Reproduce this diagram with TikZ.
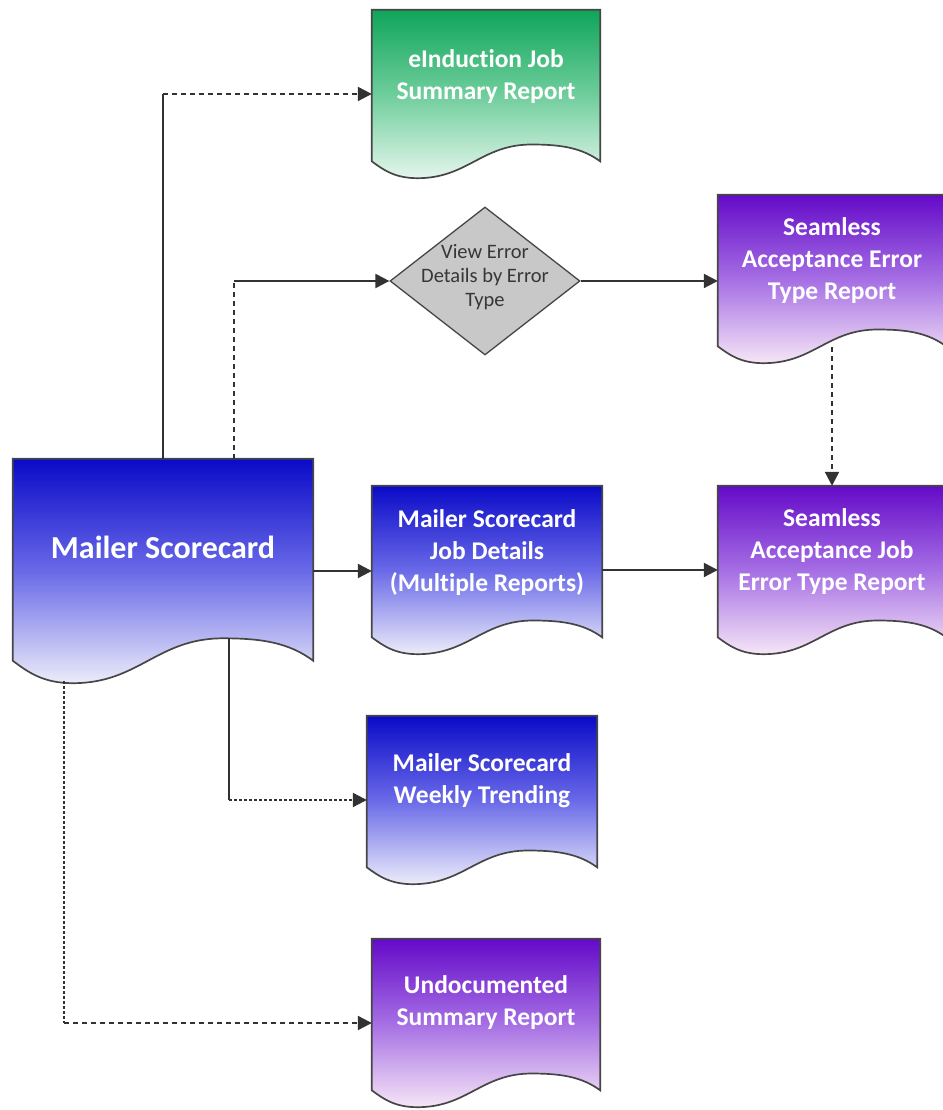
\documentclass[tikz,border=0pt]{standalone}
\usepackage{fontspec}
\newfontfamily\calfont{Carlito}[Ligatures=CommonOff]
\usetikzlibrary{shapes.geometric,arrows.meta,calc,backgrounds}
\definecolor{lineg}{RGB}{50,50,50}
\definecolor{edgeg}{RGB}{70,70,70}
\definecolor{bluetop}{RGB}{10,10,200}
\definecolor{bluemid}{RGB}{105,105,232}
\definecolor{bluebot}{RGB}{236,236,250}
\definecolor{greentop}{RGB}{15,165,90}
\definecolor{greenmid}{RGB}{110,205,155}
\definecolor{greenbot}{RGB}{228,246,236}
\definecolor{purptop}{RGB}{100,10,200}
\definecolor{purpmid}{RGB}{165,110,228}
\definecolor{purpbot}{RGB}{246,230,246}
\definecolor{diafill}{RGB}{200,200,200}
\definecolor{diatext}{RGB}{55,55,55}
\newcommand\docpath[1]{%
 let \p1=(#1.south west), \p2=(#1.north east), \n1={\x2-\x1}, \n2={\y2-\y1} in
 (\x1,\y2) -- (\x2,\y2) -- (\x2,\y1+0.1*\n2)
 .. controls (\x2-0.08*\n1,\y1+0.18*\n2) and (\x2-0.17*\n1,\y1+0.2*\n2) .. (\x1+0.7*\n1,\y1+0.2*\n2)
 .. controls (\x1+0.48*\n1,\y1+0.2*\n2) and (\x1+0.42*\n1,\y1) .. (\x1+0.2*\n1,\y1)
 .. controls (\x1+0.1*\n1,\y1) and (\x1+0.05*\n1,\y1+0.05*\n2) .. (\x1,\y1+0.1*\n2) -- cycle}
\begin{document}
\begin{tikzpicture}[x=1pt,y=1pt,
  docnode/.style={rectangle, draw=none, inner sep=0pt, minimum width=#1, minimum height=168pt},
  doctext/.style={text=white, font=\calfont\bfseries\fontsize{25.5}{32}\selectfont, align=center},
  bigtext/.style={text=white, font=\calfont\bfseries\fontsize{32}{38}\selectfont, align=center},
  diatxt/.style={text=diatext, font=\calfont\fontsize{20.5}{24}\selectfont, align=center},
  docedge/.style={draw=edgeg, line width=1.7pt},
  blueshade/.style={top color=bluetop, bottom color=bluebot, middle color=bluemid},
  greenshade/.style={top color=greentop, bottom color=greenbot, middle color=greenmid},
  purpshade/.style={top color=purptop, bottom color=purpbot, middle color=purpmid},
  link/.style={draw=lineg, line width=2.2pt},
  tip/.style={-{Triangle[length=14pt,width=14pt]}},
  dots/.style={dash pattern=on 5pt off 4pt},
  fine/.style={dash pattern=on 3pt off 2pt}]
\useasboundingbox (0,0) rectangle (942,1110);
\clip (0,0) rectangle (942,1110);

% nodes
\node[docnode=300pt, minimum height=224pt,
  label={[bigtext, yshift=24pt]center:Mailer Scorecard}] (ms) at (163,539) {};
\node[docnode=228pt,
  label={[doctext, yshift=17pt]center:{eInduction Job\\Summary Report}}] (ei) at (486,1016) {};
\node[diamond, draw=edgeg, line width=1.3pt, fill=diafill, inner sep=0pt,
  minimum width=190pt, minimum height=148pt,
  label={[diatxt, yshift=4pt]center:{View Error\\Details by Error\\Type}}] (dia) at (485,829) {};
\node[docnode=228pt,
  label={[doctext, yshift=18pt]center:{Seamless\\Acceptance Error\\Type Report}}] (se) at (832,831) {};
\node[docnode=230pt,
  label={[doctext, yshift=17pt]center:{Mailer Scorecard\\Job Details\\(Multiple Reports)}}] (jd) at (487,540) {};
\node[docnode=228pt,
  label={[doctext, yshift=18pt]center:{Seamless\\Acceptance Job\\Error Type Report}}] (je) at (832,540) {};
\node[docnode=230pt,
  label={[doctext, yshift=19pt]center:{Mailer Scorecard\\Weekly Trending}}] (wt) at (482,310) {};
\node[docnode=228pt,
  label={[doctext, yshift=20pt]center:{Undocumented\\Summary Report}}] (ud) at (486,87) {};

% document shapes, behind the texts
\begin{scope}[on background layer]
\shadedraw[docedge, blueshade] \docpath{ms};
\shadedraw[docedge, greenshade] \docpath{ei};
\shadedraw[docedge, purpshade] \docpath{se};
\shadedraw[docedge, blueshade] \docpath{jd};
\shadedraw[docedge, purpshade] \docpath{je};
\shadedraw[docedge, blueshade] \docpath{wt};
\shadedraw[docedge, purpshade] \docpath{ud};
\end{scope}

% connectors
\coordinate (k1) at (ms.north |- ei.west);
\draw[link] (ms.north) -- (k1);
\draw[link, dots, tip] (k1) -- (ei.west);

\coordinate (k2a) at ([xshift=71pt]ms.north);
\coordinate (k2) at (k2a |- dia.west);
\draw[link, dots] (k2a) -- (k2);
\draw[link, tip] (k2) -- (dia.west);

\draw[link, tip] (dia.east) -- (dia.east -| se.west);
\draw[link, dots, tip] ([yshift=16pt]se.south) -- (je.north);

\draw[link, tip] (ms.east) -- (ms.east -| jd.west);
\draw[link, tip] (jd.east) -- (jd.east -| je.west);

\coordinate (k3a) at ([xshift=66pt,yshift=45pt]ms.south);
\coordinate (k3) at (k3a |- wt.west);
\draw[link] (k3a) -- (k3);
\draw[link, fine, tip] (k3) -- (wt.west);

\coordinate (k4a) at ([xshift=-99pt,yshift=2pt]ms.south);
\coordinate (k4) at (k4a |- ud.west);
\draw[link, fine] (k4a) -- (k4);
\draw[link, dots, tip] (k4) -- (ud.west);
\end{tikzpicture}
\end{document}
